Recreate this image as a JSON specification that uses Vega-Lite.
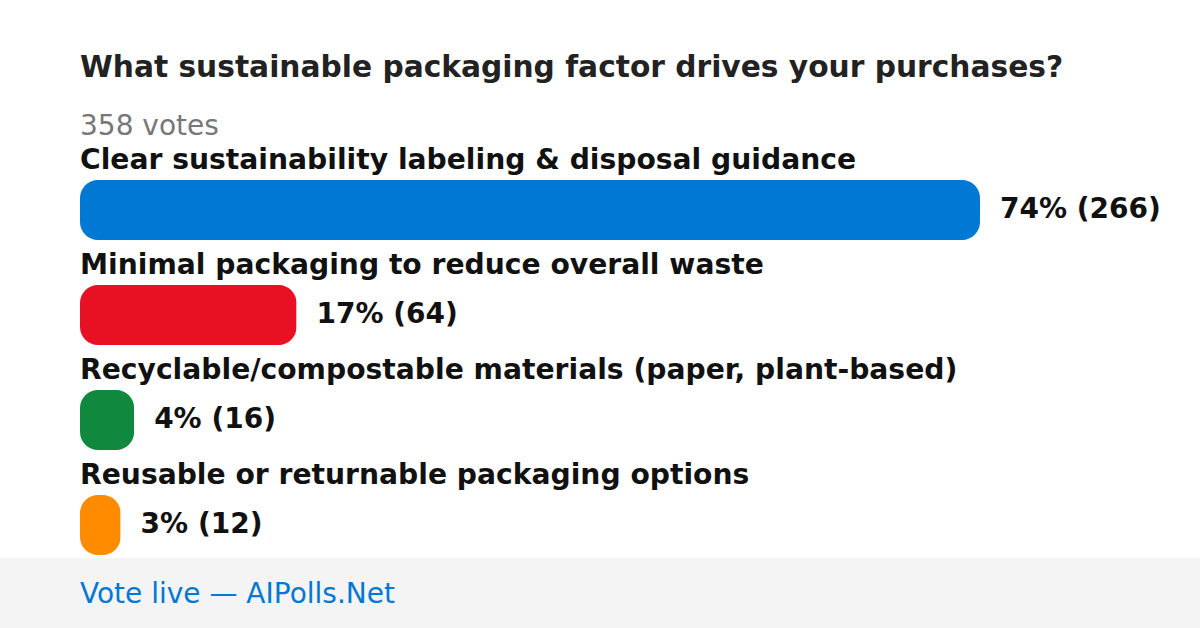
{
  "$schema": "https://vega.github.io/schema/vega-lite/v6.json",
  "autosize": {"type": "pad"},
  "padding": {"top": 53, "left": 0, "right": 0, "bottom": 0},
  "background": "#ffffff",
  "title": {
    "text": "What sustainable packaging factor drives your purchases?",
    "subtitle": "358 votes",
    "anchor": "start",
    "frame": "group",
    "dx": 80,
    "offset": -2,
    "font": "DejaVu Sans",
    "fontSize": 29.7,
    "fontWeight": "bold",
    "color": "#222222",
    "subtitleFont": "DejaVu Sans",
    "subtitleFontSize": 28,
    "subtitleFontWeight": "normal",
    "subtitleColor": "#777777",
    "subtitlePadding": 29
  },
  "spacing": 0,
  "resolve": {"scale": {"x": "shared"}},
  "vconcat": [
    {
      "width": 1200,
      "height": 418,
      "data": {
        "values": [
          {"option": "Clear sustainability labeling & disposal guidance", "votes": 266, "pct": 74, "label": "74% (266)"},
          {"option": "Minimal packaging to reduce overall waste", "votes": 64, "pct": 17, "label": "17% (64)"},
          {"option": "Recyclable/compostable materials (paper, plant-based)", "votes": 16, "pct": 4, "label": "4% (16)"},
          {"option": "Reusable or returnable packaging options", "votes": 12, "pct": 3, "label": "3% (12)"}
        ]
      },
      "encoding": {
        "y": {
          "field": "option",
          "type": "nominal",
          "sort": null,
          "axis": null,
          "scale": {"range": [40, 415], "paddingInner": 0.428571, "paddingOuter": 0}
        }
      },
      "layer": [
        {
          "mark": {"type": "bar", "cornerRadius": 18},
          "encoding": {
            "x": {
              "field": "votes",
              "type": "quantitative",
              "axis": null,
              "scale": {"domain": [0, 266], "range": [80, 980], "nice": false, "zero": true}
            },
            "color": {
              "field": "option",
              "type": "nominal",
              "legend": null,
              "scale": {
                "domain": [
                  "Clear sustainability labeling & disposal guidance",
                  "Minimal packaging to reduce overall waste",
                  "Recyclable/compostable materials (paper, plant-based)",
                  "Reusable or returnable packaging options"
                ],
                "range": ["#0078d4", "#e81123", "#10893e", "#ff8c00"]
              }
            }
          }
        },
        {
          "mark": {"type": "text", "align": "left", "baseline": "alphabetic", "dy": -11, "font": "DejaVu Sans", "fontSize": 28.2, "fontWeight": "bold", "color": "#111111"},
          "encoding": {
            "x": {"datum": 0, "type": "quantitative", "axis": null},
            "y": {"field": "option", "type": "nominal", "sort": null, "axis": null, "bandPosition": 0},
            "text": {"field": "option"}
          }
        },
        {
          "mark": {"type": "text", "align": "left", "baseline": "alphabetic", "dx": 20, "dy": 8, "font": "DejaVu Sans", "fontSize": 28, "fontWeight": "bold", "color": "#111111"},
          "encoding": {
            "x": {"field": "votes", "type": "quantitative", "axis": null},
            "text": {"field": "label"}
          }
        }
      ]
    },
    {
      "width": 1200,
      "height": 70,
      "view": {"fill": "#f4f4f4", "stroke": null},
      "data": {"values": [{"text": "Vote live — AIPolls.Net"}]},
      "mark": {"type": "text", "align": "left", "baseline": "alphabetic", "dy": 10, "font": "DejaVu Sans", "fontSize": 28, "color": "#0078d4"},
      "encoding": {
        "x": {"datum": 0, "type": "quantitative", "axis": null},
        "text": {"field": "text"}
      }
    }
  ],
  "config": {
    "view": {"stroke": null},
    "font": "DejaVu Sans"
  }
}
